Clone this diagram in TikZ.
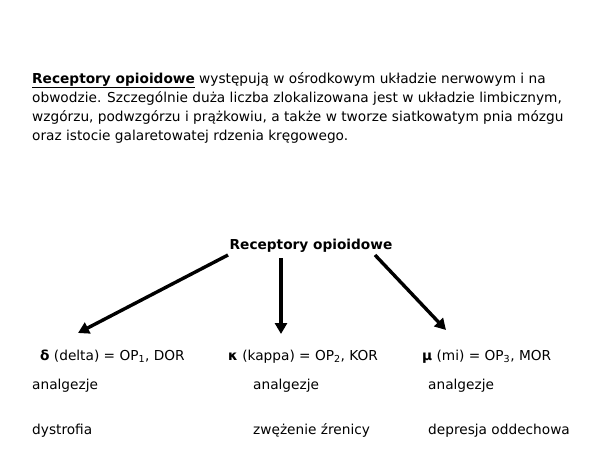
\documentclass[tikz,border=0pt]{standalone}
\usepackage{fontspec}
\setmainfont{DejaVu Sans}
\usetikzlibrary{arrows.meta}
\begin{document}
\begin{tikzpicture}[x=1pt,y=-1pt,
  txt/.style={anchor=base west,inner sep=0pt,font=\fontsize{13.7}{16}\selectfont},
  arr/.style={line width=3.4pt,-{Triangle[length=11pt,width=12pt]}}]
\useasboundingbox (0,0) rectangle (600,450);
\fill[white] (0,0) rectangle (600,450);
\node[txt] (p1) at (32,83) {\underline{\textbf{Receptory opioidowe}} występują w ośrodkowym układzie nerwowym i na};
\node[txt] (p2) at (32,102) {obwodzie. Szczególnie duża liczba zlokalizowana jest w układzie limbicznym,};
\node[txt] (p3) at (32,121) {wzgórzu, podwzgórzu i prążkowiu, a także w tworze siatkowatym pnia mózgu};
\node[txt] (p4) at (32,140) {oraz istocie galaretowatej rdzenia kręgowego.};
\node[txt,anchor=base] (head) at (311,249) {\textbf{Receptory opioidowe}};
\coordinate (s1) at (228,255);
\coordinate (s2) at (281,258);
\coordinate (s3) at (375,255);
\coordinate (e1) at (78,333);
\coordinate (e2) at (281,334);
\coordinate (e3) at (446,330);
\draw[arr] (s1) -- (e1);
\draw[arr] (s2) -- (e2);
\draw[arr] (s3) -- (e3);
\node[txt] (d) at (40,360) {\textbf{δ} (delta) = OP\textsubscript{1}, DOR};
\node[txt] (k) at (228,360) {\textbf{κ} (kappa) = OP\textsubscript{2}, KOR};
\node[txt] (m) at (422,360) {\textbf{μ} (mi) = OP\textsubscript{3}, MOR};
\node[txt] (a1) at (32,389) {analgezje};
\node[txt] (a2) at (253,389) {analgezje};
\node[txt] (a3) at (428,389) {analgezje};
\node[txt] (b1) at (32,434) {dystrofia};
\node[txt] (b2) at (253,434) {zwężenie źrenicy};
\node[txt] (b3) at (428,434) {depresja oddechowa};
\end{tikzpicture}
\end{document}
